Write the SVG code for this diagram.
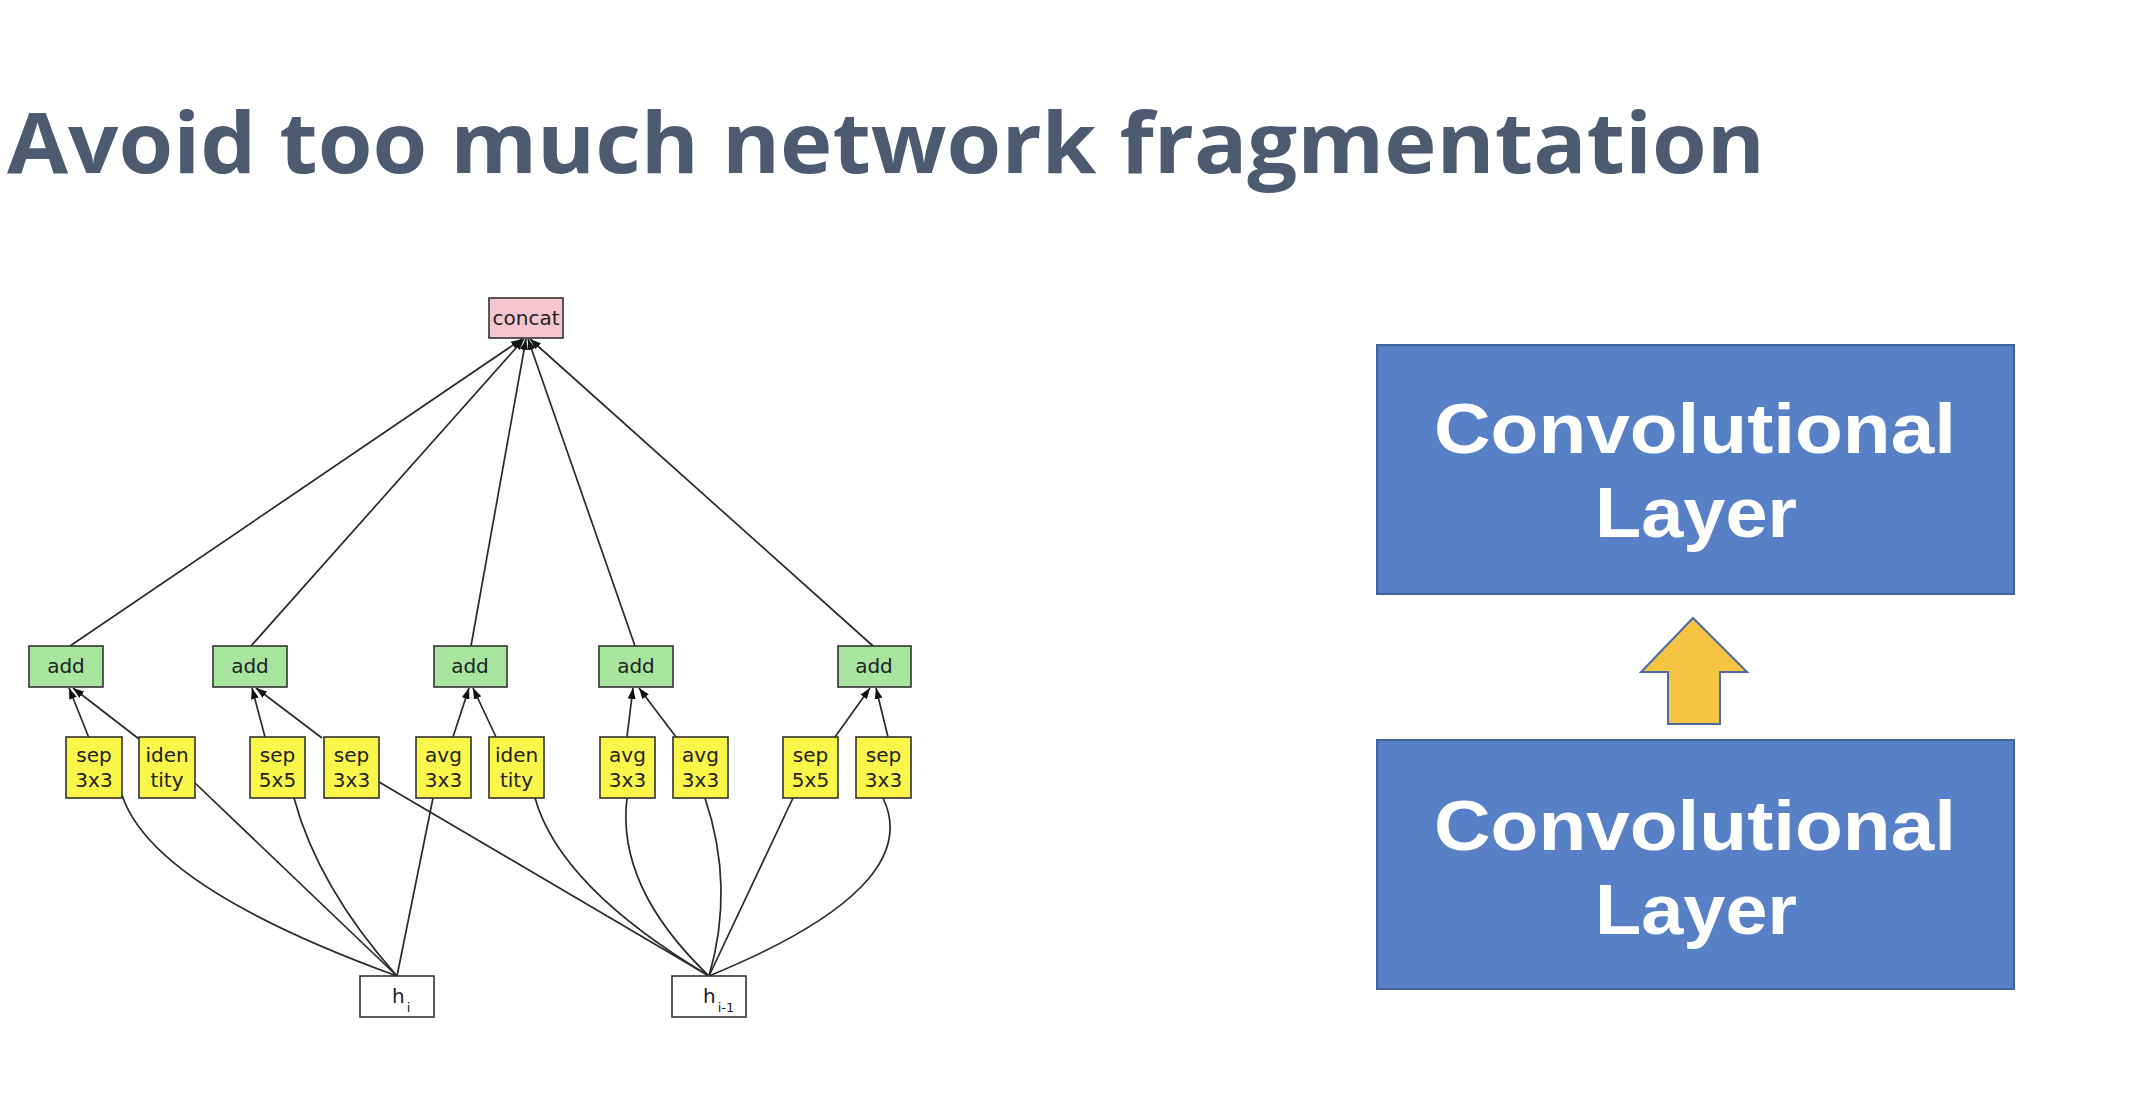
<svg xmlns="http://www.w3.org/2000/svg" width="2152" height="1112" viewBox="0 0 2152 1112">
<defs>
<style>
.title{font-family:"Open Sans","Liberation Sans",sans-serif;font-weight:700;font-size:84px;fill:#4d5b70}
.g{font-family:"DejaVu Sans","Liberation Sans",sans-serif;font-size:20px;fill:#222;text-anchor:middle}
.sub{font-size:13px}
.nbox{stroke:#333;stroke-width:1.6}
.concat{fill:#f6c6d0}
.add{fill:#a8e6a0}
.op{fill:#fbf64a}
.inp{fill:#fff}
.edge{fill:none;stroke:#2a2a2a;stroke-width:1.7}
.arr{marker-end:url(#ah)}
.layer{fill:#5880c7;stroke:#3f64a0;stroke-width:2}
.lt{font-family:"Liberation Sans","Open Sans",sans-serif;font-weight:700;font-size:70px;fill:#fff;text-anchor:middle}
</style>
<marker id="ah" markerUnits="userSpaceOnUse" markerWidth="11" markerHeight="8" refX="11" refY="4" orient="auto">
<path d="M0,0 L11,4 L0,8 z" fill="#111"/>
</marker>
</defs>
<rect width="2152" height="1112" fill="#fff"/>
<text class="title" x="7" y="173" textLength="1758" lengthAdjust="spacingAndGlyphs">Avoid too much network fragmentation</text>

<g id="connectors">
<line class="edge arr" x1="70" y1="646" x2="522" y2="339"/>
<line class="edge arr" x1="251" y1="646" x2="524" y2="339"/>
<line class="edge arr" x1="471" y1="646" x2="526" y2="339"/>
<line class="edge arr" x1="635" y1="646" x2="528" y2="339"/>
<line class="edge arr" x1="873" y1="646" x2="530" y2="339"/>
<line class="edge arr" x1="89" y1="738" x2="69" y2="688"/>
<line class="edge arr" x1="139" y1="739" x2="73" y2="688"/>
<line class="edge arr" x1="265" y1="737" x2="252" y2="688"/>
<line class="edge arr" x1="322" y1="738" x2="256" y2="688"/>
<line class="edge arr" x1="453" y1="737" x2="469" y2="688"/>
<line class="edge arr" x1="496" y1="737" x2="473" y2="688"/>
<line class="edge arr" x1="627" y1="737" x2="633" y2="688"/>
<line class="edge arr" x1="676" y1="737" x2="639" y2="688"/>
<line class="edge arr" x1="835" y1="737" x2="870" y2="688"/>
<line class="edge arr" x1="888" y1="737" x2="876" y2="688"/>
<path class="edge" d="M122 795 Q152 887 397 976"/>
<path class="edge" d="M195 783 L397 976"/>
<path class="edge" d="M294 798 Q318 887 397 976"/>
<path class="edge" d="M433 798 L397 976"/>
<path class="edge" d="M379 782 L709 976"/>
<path class="edge" d="M535 798 Q560 887 709 976"/>
<path class="edge" d="M627 798 Q616 887 709 976"/>
<path class="edge" d="M705 798 Q735 887 709 976"/>
<path class="edge" d="M793 798 L709 976"/>
<path class="edge" d="M883 798 Q926 887 709 976"/>
</g>

<g id="concat"><rect class="nbox concat" x="489" y="298" width="74" height="40"/><text class="g" x="526" y="325">concat</text></g>

<g id="add1"><rect class="nbox add" x="29" y="646" width="74" height="41"/><text class="g" x="66" y="673">add</text></g>
<g id="add2"><rect class="nbox add" x="213" y="646" width="74" height="41"/><text class="g" x="250" y="673">add</text></g>
<g id="add3"><rect class="nbox add" x="434" y="646" width="73" height="41"/><text class="g" x="470" y="673">add</text></g>
<g id="add4"><rect class="nbox add" x="599" y="646" width="74" height="41"/><text class="g" x="636" y="673">add</text></g>
<g id="add5"><rect class="nbox add" x="838" y="646" width="73" height="41"/><text class="g" x="874" y="673">add</text></g>

<g id="op1"><rect class="nbox op" x="66" y="737" width="56" height="61"/><text class="g" x="94" y="762">sep</text><text class="g" x="94" y="787">3x3</text></g>
<g id="op2"><rect class="nbox op" x="139" y="737" width="56" height="61"/><text class="g" x="167" y="762">iden</text><text class="g" x="167" y="787">tity</text></g>
<g id="op3"><rect class="nbox op" x="250" y="737" width="55" height="61"/><text class="g" x="277.500" y="762">sep</text><text class="g" x="277.500" y="787">5x5</text></g>
<g id="op4"><rect class="nbox op" x="324" y="737" width="55" height="61"/><text class="g" x="351.500" y="762">sep</text><text class="g" x="351.500" y="787">3x3</text></g>
<g id="op5"><rect class="nbox op" x="416" y="737" width="55" height="61"/><text class="g" x="443.500" y="762">avg</text><text class="g" x="443.500" y="787">3x3</text></g>
<g id="op6"><rect class="nbox op" x="489" y="737" width="55" height="61"/><text class="g" x="516.500" y="762">iden</text><text class="g" x="516.500" y="787">tity</text></g>
<g id="op7"><rect class="nbox op" x="600" y="737" width="55" height="61"/><text class="g" x="627.500" y="762">avg</text><text class="g" x="627.500" y="787">3x3</text></g>
<g id="op8"><rect class="nbox op" x="673" y="737" width="55" height="61"/><text class="g" x="700.500" y="762">avg</text><text class="g" x="700.500" y="787">3x3</text></g>
<g id="op9"><rect class="nbox op" x="783" y="737" width="55" height="61"/><text class="g" x="810.500" y="762">sep</text><text class="g" x="810.500" y="787">5x5</text></g>
<g id="op10"><rect class="nbox op" x="856" y="737" width="55" height="61"/><text class="g" x="883.500" y="762">sep</text><text class="g" x="883.500" y="787">3x3</text></g>

<g id="h_i"><rect class="nbox inp" x="360" y="976" width="74" height="41"/><text class="g" x="392" y="1003" style="text-anchor:start">h<tspan class="sub" dx="2" dy="9">i</tspan></text></g>
<g id="h_i-1"><rect class="nbox inp" x="672" y="976" width="74" height="41"/><text class="g" x="703" y="1003" style="text-anchor:start">h<tspan class="sub" dx="2" dy="9">i-1</tspan></text></g>

<g id="layer_top"><rect class="layer" x="1377" y="345" width="637" height="249"/><text class="lt" x="1695" y="453" textLength="522" lengthAdjust="spacingAndGlyphs">Convolutional</text><text class="lt" x="1696" y="537" textLength="202" lengthAdjust="spacingAndGlyphs">Layer</text></g>
<g id="up_arrow"><path d="M1693 618 L1747 672 L1720 672 L1720 724 L1668 724 L1668 672 L1641 672 Z" fill="#f5c440" stroke="#4a6aa8" stroke-width="2" stroke-linejoin="miter"/></g>
<g id="layer_bottom"><rect class="layer" x="1377" y="740" width="637" height="249"/><text class="lt" x="1695" y="850" textLength="522" lengthAdjust="spacingAndGlyphs">Convolutional</text><text class="lt" x="1696" y="934" textLength="202" lengthAdjust="spacingAndGlyphs">Layer</text></g>
</svg>
